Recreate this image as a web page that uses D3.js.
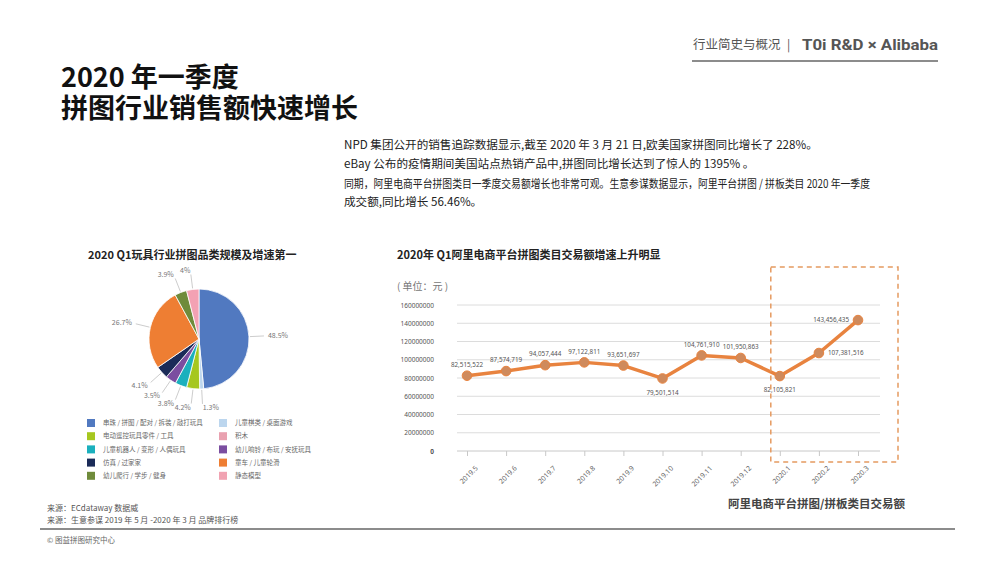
<!DOCTYPE html>
<html>
<head>
<meta charset="utf-8">
<script src="https://cdn.jsdelivr.net/npm/d3@7"></script>
<style>
  html, body { margin: 0; padding: 0; background: #fff; }
  body { position: relative; width: 1000px; height: 562px; overflow: hidden; }
  svg { display: block; font-family: "Noto Sans CJK SC", "Noto Sans", sans-serif; }
  #title { position: absolute; left: 61px; top: 60px; font-family: "Noto Sans CJK SC", sans-serif;
    font-weight: bold; color: #111; font-size: 27px; line-height: 31px; white-space: nowrap; }
</style>
</head>
<body>
<svg id="page" width="1000" height="562"></svg>
<script>
// ---- data ----
const pieNames = ["串珠 / 拼图 / 配对 / 拆装 / 敲打玩具", "儿童棋类 / 桌面游戏", "电动遥控玩具零件 / 工具",
  "儿童机器人 / 变形 / 人偶玩具", "幼儿响铃 / 布玩 / 安抚玩具", "仿真 / 过家家",
  "童车 / 儿童轮滑", "幼儿爬行 / 学步 / 健身", "积木"];
const pieValues = [48.5, 1.3, 4.2, 3.8, 3.5, 4.1, 26.7, 3.9, 4];
const pieColors = ["#5179c0", "#bcd6ee", "#a6c71f", "#1bb0bd", "#7b4ea0", "#1b2b58", "#ee7e33", "#6f8b3b", "#f3a1b3"];

// legend order as printed (two columns)
const legendLeft = ["串珠 / 拼图 / 配对 / 拆装 / 敲打玩具", "电动遥控玩具零件 / 工具", "儿童机器人 / 变形 / 人偶玩具", "仿真 / 过家家", "幼儿爬行 / 学步 / 健身"];
const legendLeftColors = ["#5179c0", "#a6c71f", "#1bb0bd", "#1b2b58", "#6f8b3b"];
const legendRight = ["儿童棋类 / 桌面游戏", "积木", "幼儿响铃 / 布玩 / 安抚玩具", "童车 / 儿童轮滑", "静态模型"];
const legendRightColors = ["#bcd6ee", "#e9a1b0", "#7b4ea0", "#ee7e33", "#f1a3b2"];

const months = ["2019.5", "2019.6", "2019.7", "2019.8", "2019.9", "2019.10", "2019.11", "2019.12", "2020.1", "2020.2", "2020.3"];
const sales = [82515522, 87574719, 94057444, 97122811, 93651697, 79501514, 104761910, 101950863, 82105821, 107381516, 143456435];
const labelSide = ["top", "top", "top", "top", "top", "bottom", "top", "top", "bottom", "right", "left"];
const yTicks = [0, 20000000, 40000000, 60000000, 80000000, 100000000, 120000000, 140000000, 160000000];

const titleLines = ["2020 年一季度", "拼图行业销售额快速增长"];
const paragraph = [
  "NPD 集团公开的销售追踪数据显示,截至 2020 年 3 月 21 日,欧美国家拼图同比增长了 228%。",
  "eBay 公布的疫情期间美国站点热销产品中,拼图同比增长达到了惊人的 1395% 。",
  "同期，阿里电商平台拼图类目一季度交易额增长也非常可观。生意参谋数据显示，阿里平台拼图 / 拼板类目 2020 年一季度",
  "成交额,同比增长 56.46%。"
];

const svg = d3.select("#page");

// ---- header ----
svg.append("text").attr("x", 693).attr("y", 49).attr("font-size", 12.5).attr("fill", "#555").text("行业简史与概况");
svg.append("text").attr("x", 787).attr("y", 49).attr("font-size", 12).attr("fill", "#555").text("|");
svg.append("text").attr("x", 802).attr("y", 50).attr("font-size", 14.5).attr("font-weight", "bold")
  .attr("fill", "#555").attr("font-family", "Roboto, sans-serif")
  .attr("textLength", 136).attr("lengthAdjust", "spacingAndGlyphs")
  .text("T0i R&D × Alibaba");
svg.append("line").attr("x1", 692).attr("x2", 938).attr("y1", 61).attr("y2", 61)
  .attr("stroke", "#8c8c8c").attr("stroke-width", 2);

// ---- title (one block, two lines) ----
d3.select("body").append("div").attr("id", "title")
  .html(titleLines.join("<br>"));

svg.append("g").selectAll("text").data(paragraph).join("text")
  .attr("x", 344).attr("y", (d, i) => [149, 168, 188, 206][i])
  .attr("font-size", 11.6).attr("fill", "#222")
  .each(function(d, i) {
    if (i === 2) d3.select(this).attr("textLength", 526).attr("lengthAdjust", "spacingAndGlyphs");
  })
  .text(d => d);

// ---- pie ----
svg.append("text").attr("x", 88).attr("y", 259).attr("font-size", 11).attr("font-weight", "bold").attr("fill", "#222")
  .text("2020 Q1玩具行业拼图品类规模及增速第一");

const cx = 199, cy = 339, r = 50;
const pieG = svg.append("g").attr("transform", `translate(${cx},${cy})`);
const arcs = d3.pie().sort(null).value(d => d)(pieValues);
const arc = d3.arc().innerRadius(0).outerRadius(r);
pieG.selectAll("path").data(arcs).join("path")
  .attr("d", arc)
  .attr("fill", (d, i) => pieColors[i])
  .attr("stroke", "#fff").attr("stroke-width", 0.8);

const mid = d => (d.startAngle + d.endAngle) / 2;
const polar = (a, rr) => [Math.sin(a) * rr, -Math.cos(a) * rr];
pieG.selectAll("line.lead").data(arcs).join("line").attr("class", "lead")
  .attr("x1", d => polar(mid(d), r + 1)[0]).attr("y1", d => polar(mid(d), r + 1)[1])
  .attr("x2", d => polar(mid(d), r + 15)[0]).attr("y2", d => polar(mid(d), r + 15)[1])
  .attr("stroke", "#aaa").attr("stroke-width", 0.6);
pieG.selectAll("text").data(arcs).join("text")
  .attr("x", d => polar(mid(d), r + 19)[0]).attr("y", d => polar(mid(d), r + 19)[1])
  .attr("dy", "0.35em")
  .attr("text-anchor", d => Math.sin(mid(d)) >= 0 ? "start" : "end")
  .attr("font-size", 7).attr("fill", "#777")
  .text(d => d.data + "%");

// legend
function legendColumn(names, colors, x) {
  const g = svg.append("g");
  const rows = g.selectAll("g").data(names).join("g")
    .attr("transform", (d, i) => `translate(${x},${423 + i * 13.2})`);
  rows.append("rect").attr("x", 0).attr("y", -4).attr("width", 8).attr("height", 8)
    .attr("fill", (d, i) => colors[i]);
  rows.append("text").attr("x", 16).attr("y", 0).attr("dy", "0.35em")
    .attr("font-size", 6.5).attr("fill", "#666").text(d => d);
}
legendColumn(legendLeft, legendLeftColors, 87);
legendColumn(legendRight, legendRightColors, 219);

// ---- line chart ----
svg.append("text").attr("x", 397).attr("y", 259).attr("font-size", 11).attr("font-weight", "bold").attr("fill", "#222")
  .text("2020年 Q1阿里电商平台拼图类目交易额增速上升明显");
svg.append("text").attr("x", 397).attr("y", 290).attr("font-size", 10).attr("fill", "#777").text("( 单位：元 )");

const x = d3.scalePoint().domain(months).range([467, 858]);
const y = d3.scaleLinear().domain([0, 160000000]).range([451, 305]);
const gridX0 = 457, gridX1 = 880;

svg.append("g").selectAll("line").data(yTicks).join("line")
  .attr("x1", gridX0).attr("x2", gridX1)
  .attr("y1", d => y(d)).attr("y2", d => y(d))
  .attr("stroke", d => d === 0 ? "#c8c8c8" : "#dcdcdc").attr("stroke-width", 1);

const yAxis = svg.append("g").attr("transform", "translate(437,0)")
  .call(d3.axisLeft(y).tickValues(yTicks).tickFormat(d3.format("d")).tickSize(0).tickPadding(3));
yAxis.select(".domain").remove();
yAxis.selectAll("text").attr("font-size", 6.5).attr("fill", "#555")
  .attr("font-weight", d => d === 0 ? "bold" : "normal")
  .attr("font-family", "'Noto Sans', sans-serif");

const xAxis = svg.append("g").attr("transform", `translate(0,${y(0)})`)
  .call(d3.axisBottom(x).tickSize(5));
xAxis.select(".domain").remove();
xAxis.selectAll("line").attr("stroke", "#c8c8c8");
xAxis.selectAll("text")
  .attr("y", 0).attr("dy", "0.35em")
  .attr("font-size", 7).attr("fill", "#666")
  .attr("font-family", "'Noto Sans', sans-serif")
  .attr("text-anchor", "end")
  .attr("transform", "translate(9,16) rotate(-45)");

svg.append("path").datum(sales)
  .attr("fill", "none").attr("stroke", "#e8833f").attr("stroke-width", 3.5)
  .attr("stroke-linejoin", "round")
  .attr("d", d3.line().x((d, i) => x(months[i])).y(d => y(d)));

svg.append("g").selectAll("circle").data(sales).join("circle")
  .attr("cx", (d, i) => x(months[i])).attr("cy", d => y(d)).attr("r", 4.8)
  .attr("fill", "#cf8a5c").attr("stroke", "#e8833f").attr("stroke-width", 1);

const fmt = d3.format(",");
svg.append("g").selectAll("text").data(sales).join("text")
  .attr("x", (d, i) => x(months[i]) + (labelSide[i] === "right" ? 9 : labelSide[i] === "left" ? -9 : 0))
  .attr("y", (d, i) => y(d) + (labelSide[i] === "top" ? -11 : labelSide[i] === "bottom" ? 14 : 0))
  .attr("dy", "0.35em")
  .attr("text-anchor", (d, i) => labelSide[i] === "right" ? "start" : labelSide[i] === "left" ? "end" : "middle")
  .attr("font-size", 6.3).attr("fill", "#555")
  .attr("font-family", "'Noto Sans', sans-serif")
  .text(d => fmt(d));

// highlighted Q1 box
svg.append("rect")
  .attr("x", x("2020.1") - 9).attr("y", y(160000000) - 38)
  .attr("width", x("2020.3") - x("2020.1") + 49)
  .attr("height", y(0) - y(160000000) + 49)
  .attr("fill", "none").attr("stroke", "#e59a60").attr("stroke-width", 1.5)
  .attr("stroke-dasharray", "5,4");

svg.append("text").attr("x", 905).attr("y", 508).attr("text-anchor", "end")
  .attr("font-size", 11.5).attr("font-weight", "bold").attr("fill", "#444")
  .text("阿里电商平台拼图/拼板类目交易额");

// ---- footer ----
svg.append("text").attr("x", 47).attr("y", 511).attr("font-size", 8).attr("fill", "#555").text("来源：ECdataway 数据威");
svg.append("text").attr("x", 47).attr("y", 523).attr("font-size", 8).attr("fill", "#555").text("来源：生意参谋 2019 年 5 月 -2020 年 3 月 品牌排行榜");
svg.append("line").attr("x1", 40).attr("x2", 955).attr("y1", 529).attr("y2", 529)
  .attr("stroke", "#8c8c8c").attr("stroke-width", 2);
svg.append("text").attr("x", 47).attr("y", 543).attr("font-size", 7.5).attr("fill", "#666").text("© 图益拼图研究中心");
</script>
</body>
</html>
